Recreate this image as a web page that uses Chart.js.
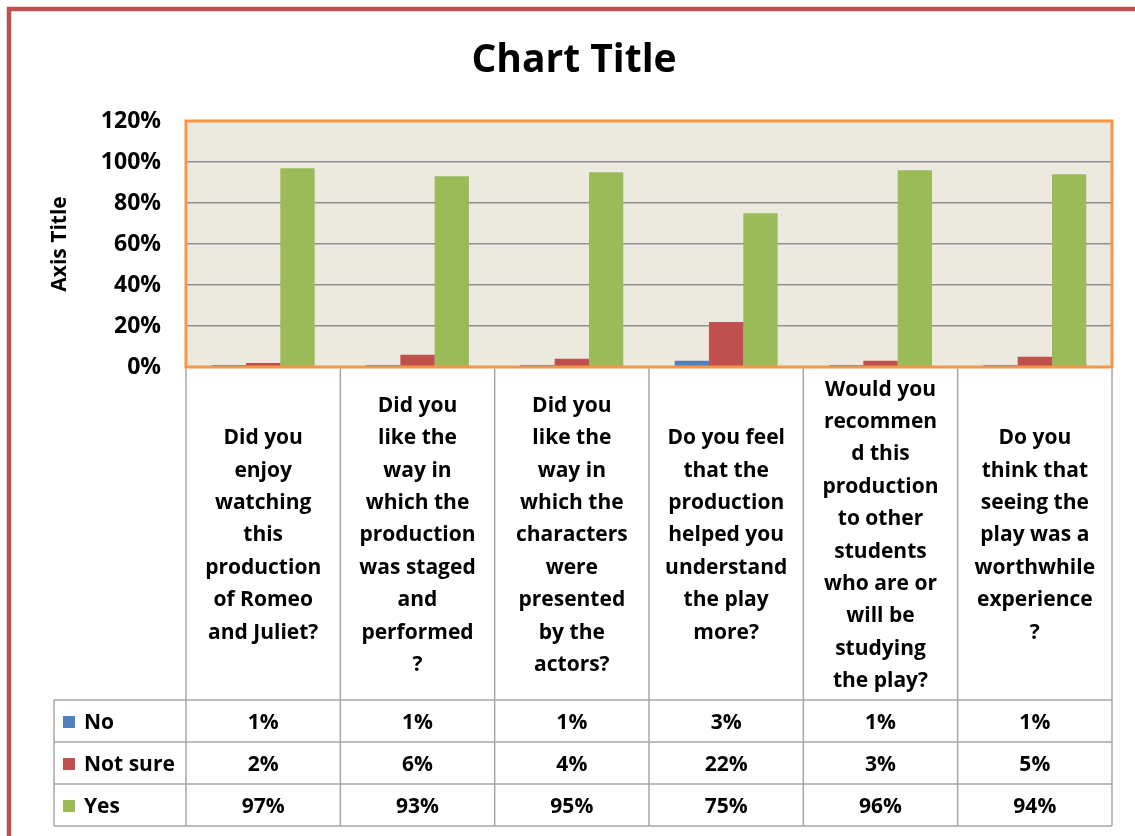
<!DOCTYPE html>
<html>
<head>
<meta charset="utf-8">
<script src="https://cdn.jsdelivr.net/npm/chart.js@4/dist/chart.umd.min.js"></script>
<style>
  html, body { margin: 0; padding: 0; background: #fff; }
  #wrap { width: 1135px; height: 836px; }
</style>
</head>
<body>
<div id="wrap"><canvas id="surveyChart" width="1135" height="836"></canvas></div>
<script>
// вопросы анкеты (с переносами строк как на картинке)
const categories = [
    ['Did you', 'enjoy', 'watching', 'this', 'production', 'of Romeo', 'and Juliet?'],
    ['Did you', 'like the', 'way in', 'which the', 'production', 'was staged', 'and', 'performed', '?'],
    ['Did you', 'like the', 'way in', 'which the', 'characters', 'were', 'presented', 'by the', 'actors?'],
    ['Do you feel', 'that the', 'production', 'helped you', 'understand', 'the play', 'more?'],
    ['Would you', 'recommen', 'd this', 'production', 'to other', 'students', 'who are or', 'will be', 'studying', 'the play?'],
    ['Do you', 'think that', 'seeing the', 'play was a', 'worthwhile', 'experience', '?']
];
const seriesNames = ['No', 'Not sure', 'Yes'];
const noValues = [1, 1, 1, 3, 1, 1];
const notSureValues = [2, 6, 4, 22, 3, 5];
const yesValues = [97, 93, 95, 75, 96, 94];
const seriesColors = ['#4F81BD', '#C0504D', '#9BBB59'];

const FONT = '"Open Sans", Lato, sans-serif';

// рамка, фон области построения, таблица данных
const excelPlugin = {
    id: 'excelLook',
    beforeDraw(chart) {
        const ctx = chart.ctx;
        const a = chart.chartArea;
        ctx.save();
        ctx.fillStyle = '#fff';
        ctx.fillRect(0, 0, chart.width, chart.height);
        // внешняя красная рамка
        ctx.strokeStyle = '#C0504D';
        ctx.lineWidth = 4.5;
        ctx.strokeRect(9, 9, chart.width + 20, chart.height + 20);
        // фон области построения
        ctx.fillStyle = '#ECEADF';
        ctx.fillRect(a.left, a.top, a.right - a.left, a.bottom - a.top);
        // заголовок
        ctx.fillStyle = '#000';
        ctx.font = 'bold 39px ' + FONT;
        ctx.textAlign = 'center';
        ctx.textBaseline = 'middle';
        ctx.fillText('Chart Title', 574, 61);
        ctx.restore();
    },
    afterDatasetsDraw(chart) {
        const ctx = chart.ctx;
        const a = chart.chartArea;
        ctx.save();
        ctx.strokeStyle = '#F79646';
        ctx.lineWidth = 3;
        ctx.strokeRect(a.left, a.top, a.right - a.left, a.bottom - a.top);
        ctx.restore();
    },
    afterDraw(chart) {
        const ctx = chart.ctx;
        const a = chart.chartArea;
        const x = chart.scales.x;
        const n = categories.length;
        const colW = (a.right - a.left) / n;
        const labelBottom = 700;
        const rowH = 42;
        const legendLeft = 54;
        const tableBottom = labelBottom + rowH * 3;
        const rows = [noValues, notSureValues, yesValues];

        ctx.save();
        ctx.strokeStyle = '#A6A6A6';
        ctx.lineWidth = 1.5;
        ctx.beginPath();
        // вертикальные линии
        for (let i = 0; i <= n; i++) {
            const px = x.getPixelForValue(Math.min(i, n - 1)) + (i === n ? colW / 2 : -colW / 2);
            ctx.moveTo(px, a.bottom + 1.5);
            ctx.lineTo(px, tableBottom);
        }
        ctx.moveTo(legendLeft, labelBottom);
        ctx.lineTo(legendLeft, tableBottom);
        // горизонтальные линии
        for (let r = 0; r <= 3; r++) {
            const py = labelBottom + r * rowH;
            ctx.moveTo(legendLeft, py);
            ctx.lineTo(a.right, py);
        }
        ctx.stroke();

        ctx.fillStyle = '#000';
        ctx.font = 'bold 21px ' + FONT;
        ctx.textAlign = 'center';
        ctx.textBaseline = 'middle';
        // подписи категорий
        const lineH = 32.4;
        const midY = (a.bottom + labelBottom) / 2 + 2;
        categories.forEach((lines, i) => {
            const cx = x.getPixelForValue(i);
            const startY = midY - (lines.length - 1) * lineH / 2;
            lines.forEach((t, j) => ctx.fillText(t, cx, startY + j * lineH));
        });
        // значения
        rows.forEach((vals, r) => {
            const cy = labelBottom + r * rowH + rowH / 2 + 2;
            vals.forEach((v, i) => ctx.fillText(v + '%', x.getPixelForValue(i), cy));
        });
        // легенда
        ctx.textAlign = 'left';
        seriesNames.forEach((name, r) => {
            const cy = labelBottom + r * rowH + rowH / 2 + 2;
            ctx.fillStyle = seriesColors[r];
            ctx.fillRect(63, cy - 7, 12, 12);
            ctx.fillStyle = '#000';
            ctx.fillText(name, 84, cy);
        });
        ctx.restore();
    }
};

new Chart(document.getElementById('surveyChart'), {
    type: 'bar',
    data: {
        labels: categories.map(c => c.join(' ')),
        datasets: [
            { label: seriesNames[0], data: noValues, backgroundColor: seriesColors[0] },
            { label: seriesNames[1], data: notSureValues, backgroundColor: seriesColors[1] },
            { label: seriesNames[2], data: yesValues, backgroundColor: seriesColors[2] }
        ]
    },
    options: {
        responsive: false,
        animation: false,
        layout: { padding: { left: 46, right: 23, top: 121, bottom: 469 } },
        datasets: { bar: { categoryPercentage: 0.667, barPercentage: 1, borderWidth: 0 } },
        plugins: {
            legend: { display: false },
            title: { display: false },
            tooltip: { enabled: false }
        },
        scales: {
            x: { display: false },
            y: {
                min: 0,
                max: 120,
                afterFit(scale) { scale.width = 140; },
                ticks: {
                    stepSize: 20,
                    padding: 25,
                    color: '#000',
                    font: { family: FONT, size: 23, weight: 'bold' },
                    callback: v => v + '%'
                },
                grid: { color: '#8F8F8F', lineWidth: 1.5, drawTicks: false },
                border: { display: false },
                title: {
                    display: true,
                    text: 'Axis Title',
                    color: '#000',
                    font: { family: FONT, size: 21, weight: 'bold' },
                    padding: { top: 1, bottom: 0 }
                }
            }
        }
    },
    plugins: [excelPlugin]
});
</script>
</body>
</html>
